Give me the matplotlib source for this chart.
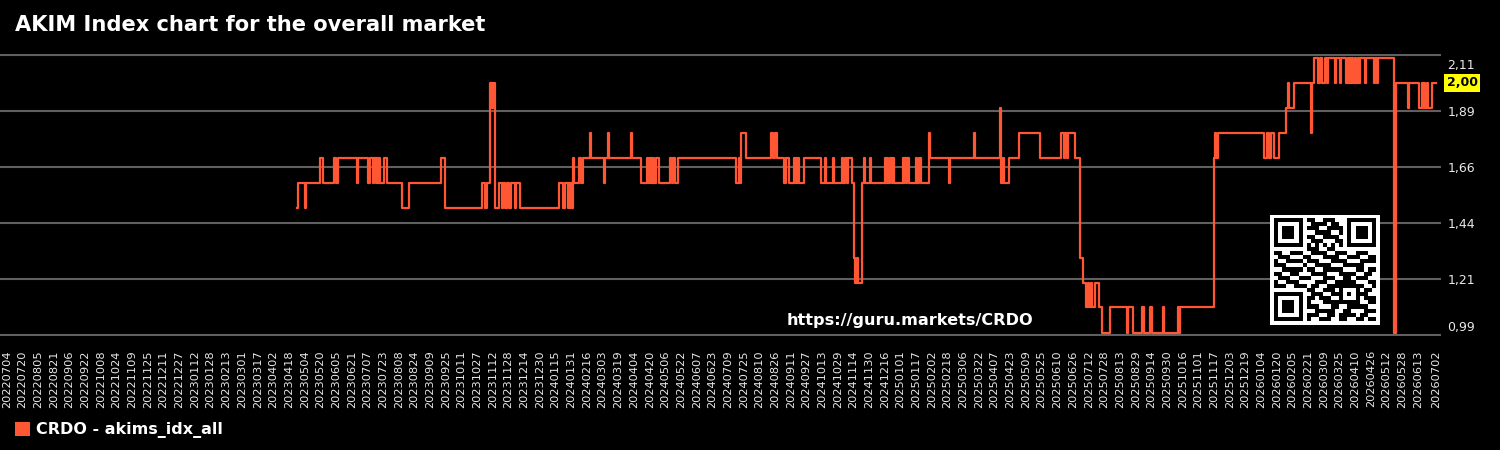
"""AKIM index step chart for CRDO, dark theme."""

import matplotlib
matplotlib.use("Agg")
import matplotlib.pyplot as plt
from matplotlib.patches import Patch
import numpy as np
import pandas as pd

BG = "#000000"
LINE_COLOR = "#ff5733"
GRID_COLOR = "#606060"
TEXT_COLOR = "#e8e8e8"

TITLE = "AKIM Index chart for the overall market"
SERIES_NAME = "CRDO - akims_idx_all"
WATERMARK = "https://guru.markets/CRDO"

# x ticks: one label every 16 days, plus the last day
TICK_START = "2022-07-04"
TICK_END = "2026-07-02"
Y_TICKS = [0.99, 1.214, 1.438, 1.662, 1.886, 2.11]
LAST_VALUE = 2.00

# the index is a step series: date it changes -> new value
CHANGE_DATES = [
    "2023-04-26", "2023-04-27", "2023-05-04", "2023-05-05", "2023-05-20", "2023-05-23",
    "2023-06-03", "2023-06-05", "2023-06-07", "2023-06-26", "2023-06-27", "2023-07-08",
    "2023-07-10", "2023-07-13", "2023-07-14", "2023-07-16", "2023-07-17", "2023-07-18",
    "2023-07-19", "2023-07-20", "2023-07-24", "2023-07-27", "2023-08-11", "2023-08-18",
    "2023-09-20", "2023-09-24", "2023-11-01", "2023-11-04", "2023-11-06", "2023-11-09",
    "2023-11-11", "2023-11-12", "2023-11-14", "2023-11-18", "2023-11-21", "2023-11-22",
    "2023-11-24", "2023-11-26", "2023-11-28", "2023-11-30", "2023-12-05", "2023-12-06",
    "2023-12-10",
    "2024-01-18", "2024-01-23", "2024-01-25", "2024-01-28", "2024-01-29", "2024-01-30",
    "2024-01-31", "2024-02-01", "2024-02-02", "2024-02-03", "2024-02-08", "2024-02-10",
    "2024-02-12", "2024-02-19", "2024-02-20", "2024-03-04", "2024-03-05", "2024-03-08",
    "2024-03-09", "2024-04-01", "2024-04-02", "2024-04-11", "2024-04-17", "2024-04-18",
    "2024-04-19", "2024-04-20", "2024-04-21", "2024-04-22", "2024-04-23", "2024-04-24",
    "2024-04-26", "2024-04-29", "2024-05-11", "2024-05-13", "2024-05-14", "2024-05-16",
    "2024-05-19", "2024-07-17", "2024-07-20", "2024-07-21", "2024-07-22", "2024-07-27",
    "2024-08-22", "2024-08-24", "2024-08-26", "2024-08-28", "2024-09-04", "2024-09-06",
    "2024-09-09", "2024-09-14", "2024-09-15", "2024-09-16", "2024-09-17", "2024-09-18",
    "2024-09-19", "2024-09-24", "2024-10-12", "2024-10-16", "2024-10-17", "2024-10-24",
    "2024-10-25", "2024-11-02", "2024-11-03", "2024-11-05", "2024-11-07", "2024-11-08",
    "2024-11-12", "2024-11-14", "2024-11-15", "2024-11-18", "2024-11-19", "2024-11-23",
    "2024-11-25", "2024-11-26", "2024-12-01", "2024-12-02", "2024-12-16", "2024-12-17",
    "2024-12-18", "2024-12-19", "2024-12-21", "2024-12-23", "2024-12-24", "2024-12-25",
    "2025-01-03", "2025-01-04", "2025-01-05", "2025-01-07", "2025-01-08", "2025-01-10",
    "2025-01-17", "2025-01-18", "2025-01-20", "2025-01-22", "2025-01-30", "2025-01-31",
    "2025-02-19", "2025-02-20", "2025-03-17", "2025-03-18", "2025-04-12", "2025-04-13",
    "2025-04-16", "2025-04-17", "2025-04-22", "2025-05-02", "2025-05-23", "2025-06-14",
    "2025-06-17", "2025-06-18", "2025-06-20", "2025-06-21", "2025-06-28", "2025-07-03",
    "2025-07-06", "2025-07-09", "2025-07-11", "2025-07-12", "2025-07-14", "2025-07-15",
    "2025-07-18", "2025-07-22", "2025-07-26", "2025-08-03", "2025-08-20", "2025-08-21",
    "2025-08-26", "2025-09-04", "2025-09-06", "2025-09-13", "2025-09-15", "2025-09-26",
    "2025-09-27", "2025-10-11", "2025-10-12", "2025-10-13", "2025-11-17", "2025-11-18",
    "2025-11-19", "2025-11-21",
    "2026-01-07", "2026-01-10", "2026-01-12", "2026-01-14", "2026-01-17", "2026-01-22",
    "2026-01-29", "2026-01-31", "2026-02-01", "2026-02-06", "2026-02-24", "2026-02-25",
    "2026-02-27", "2026-03-03", "2026-03-05", "2026-03-07", "2026-03-10", "2026-03-12",
    "2026-03-13", "2026-03-20", "2026-03-21", "2026-03-25", "2026-03-26", "2026-04-01",
    "2026-04-03", "2026-04-04", "2026-04-05", "2026-04-06", "2026-04-07", "2026-04-08",
    "2026-04-10", "2026-04-11", "2026-04-13", "2026-04-14", "2026-04-15", "2026-04-20",
    "2026-04-21", "2026-04-29", "2026-04-30", "2026-05-02", "2026-05-03", "2026-05-20",
    "2026-05-22", "2026-06-03", "2026-06-04", "2026-06-14", "2026-06-17", "2026-06-18",
    "2026-06-19", "2026-06-20", "2026-06-22", "2026-06-23", "2026-06-27", "2026-07-01",
]
CHANGE_VALUES = [
    1.5, 1.6, 1.5, 1.6, 1.7, 1.6,
    1.7, 1.6, 1.7, 1.6, 1.7, 1.6,
    1.7, 1.6, 1.7, 1.6, 1.7, 1.6,
    1.7, 1.6, 1.7, 1.6, 1.5, 1.6,
    1.7, 1.5, 1.6, 1.5, 1.6, 2.0,
    1.9, 2.0, 1.5, 1.6, 1.5, 1.6,
    1.5, 1.6, 1.5, 1.6, 1.5, 1.6,
    1.5,
    1.6, 1.5, 1.6, 1.5, 1.6, 1.5,
    1.6, 1.5, 1.7, 1.6, 1.7, 1.6,
    1.7, 1.8, 1.7, 1.6, 1.7, 1.8,
    1.7, 1.8, 1.7, 1.6, 1.7, 1.6,
    1.7, 1.6, 1.7, 1.6, 1.7, 1.6,
    1.7, 1.6, 1.7, 1.6, 1.7, 1.6,
    1.7, 1.6, 1.7, 1.6, 1.8, 1.7,
    1.8, 1.7, 1.8, 1.7, 1.6, 1.7,
    1.6, 1.7, 1.6, 1.7, 1.6, 1.7,
    1.6, 1.7, 1.6, 1.7, 1.6, 1.7,
    1.6, 1.7, 1.6, 1.7, 1.6, 1.7,
    1.6, 1.3, 1.2, 1.3, 1.2, 1.6,
    1.7, 1.6, 1.7, 1.6, 1.7, 1.6,
    1.7, 1.6, 1.7, 1.6, 1.7, 1.6,
    1.7, 1.6, 1.7, 1.6, 1.7, 1.6,
    1.7, 1.6, 1.7, 1.6, 1.8, 1.7,
    1.6, 1.7, 1.8, 1.7, 1.9, 1.6,
    1.7, 1.6, 1.7, 1.8, 1.7, 1.8,
    1.7, 1.8, 1.7, 1.8, 1.7, 1.3,
    1.2, 1.1, 1.2, 1.1, 1.2, 1.1,
    1.2, 1.1, 1.0, 1.1, 1.0, 1.1,
    1.0, 1.1, 1.0, 1.1, 1.0, 1.1,
    1.0, 1.1, 1.0, 1.1, 1.7, 1.8,
    1.7, 1.8,
    1.7, 1.8, 1.7, 1.8, 1.7, 1.8,
    1.9, 2.0, 1.9, 2.0, 1.8, 2.0,
    2.1, 2.0, 2.1, 2.0, 2.1, 2.0,
    2.1, 2.0, 2.1, 2.0, 2.1, 2.0,
    2.1, 2.0, 2.1, 2.0, 2.1, 2.0,
    2.1, 2.0, 2.1, 2.0, 2.1, 2.0,
    2.1, 2.0, 2.1, 2.0, 2.1, 1.0,
    2.0, 1.9, 2.0, 1.9, 2.0, 1.9,
    2.0, 1.9, 2.0, 1.9, 2.0, 2.0,
]

# QR code modules (1 = dark), 25 x 25
QR_ROWS = [
    "1111111011001110001111111",
    "1000001001111011001000001",
    "1011101011100111101011101",
    "1011101000111100101011101",
    "1011101011001111001011101",
    "1000001001110001101000001",
    "1111111010101010101111111",
    "0000000011100110000000000",
    "1100111001111001110011100",
    "0111000110001111001110011",
    "1001111011100011110001111",
    "1110000100111100011111000",
    "0011111011001111100011011",
    "1100110001111000111100110",
    "0111001110001110011011100",
    "1001110000111001111100011",
    "1110011101100111111111001",
    "0000000011001110100010110",
    "1111111001110011101011100",
    "1000001011011100100010111",
    "1011101010001111111110011",
    "1011101011100011001111100",
    "1011101000111110011000111",
    "1000001011100110111101100",
    "1111111010011100110011011",
]


def fmt_num(v: float) -> str:
    return f"{v:.2f}".replace(".", ",")


def main() -> None:
    fig = plt.figure(figsize=(15, 4.5), dpi=100, facecolor=BG)
    ax = fig.add_axes([0, 1 - 336.25 / 450, 1441 / 1500, 282.5 / 450])
    ax.set_facecolor(BG)

    dates = pd.to_datetime(CHANGE_DATES)
    ax.plot(dates, CHANGE_VALUES, drawstyle="steps-post", color=LINE_COLOR, lw=1.6)

    # every 16th day, the last one dropped when it would crowd the final label
    end = pd.Timestamp(TICK_END)
    ticks = [t for t in pd.date_range(TICK_START, TICK_END, freq="16D")
             if (end - t).days > 10] + [end]
    ax.set_xticks(ticks, [t.strftime("%Y%m%d") for t in ticks], rotation=90)
    ax.set_xlim(pd.Timestamp("2022-06-27"), pd.Timestamp("2026-07-06 12:00"))

    ax.set_ylim(0.985, 2.115)
    ax.set_yticks(Y_TICKS)
    ax.grid(axis="y", color=GRID_COLOR, lw=1.5)
    ax.set_axisbelow(True)
    for s in ax.spines.values():
        s.set_visible(False)
    ax.tick_params(axis="x", length=0, pad=10, labelsize=8.2, labelcolor=TEXT_COLOR)
    ax.tick_params(axis="y", length=0, labelleft=False)

    # y labels sit right of the plot; the outer two are pulled inside
    for i, v in enumerate(Y_TICKS):
        dy = 6.5 if i == 0 else (-6.5 if i == len(Y_TICKS) - 1 else 0)
        ax.annotate(fmt_num(v), xy=(1, v), xycoords=("axes fraction", "data"),
                    xytext=(4.5, dy), textcoords="offset points",
                    ha="left", va="center_baseline", fontsize=9, color=TEXT_COLOR,
                    annotation_clip=False)

    # last value tag
    ax.annotate(fmt_num(LAST_VALUE), xy=(1, LAST_VALUE), xycoords=("axes fraction", "data"),
                xytext=(4, 0), textcoords="offset points", ha="left", va="center",
                fontsize=9, fontweight="bold", color="black",
                bbox=dict(boxstyle="square,pad=0.2", fc="#ffff00", ec="none"),
                annotation_clip=False)

    fig.text(15 / 1500, 1 - 25 / 450, TITLE, ha="left", va="center",
             fontsize=15.1, fontweight="bold", color="white")
    fig.text(910 / 1500, 1 - 320 / 450, WATERMARK, ha="center", va="center",
             fontsize=11.6, fontweight="bold", color="white")

    fig.legend(handles=[Patch(facecolor=LINE_COLOR, label=SERIES_NAME)],
               loc="center left", bbox_to_anchor=(15 / 1500, 1 - 430 / 450),
               frameon=False, borderpad=0, borderaxespad=0,
               handlelength=0.95, handleheight=0.95, handletextpad=0.35,
               prop=dict(weight="bold", size=11.5), labelcolor="white")

    qr = np.array([[int(c) for c in row] for row in QR_ROWS])
    qr = np.pad(qr, 1)
    qax = fig.add_axes([1270 / 1500, 1 - 325 / 450, 110 / 1500, 110 / 450])
    qax.imshow(qr, cmap="gray_r", interpolation="nearest", vmin=0, vmax=1)
    qax.set_axis_off()

    fig.savefig("out.png", dpi=100, facecolor=BG)


if __name__ == "__main__":
    main()
